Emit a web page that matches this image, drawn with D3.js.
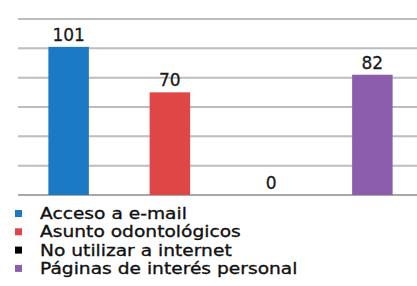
<!DOCTYPE html>
<html>
<head>
<meta charset="utf-8">
<script src="https://cdn.jsdelivr.net/npm/d3@7"></script>
<style>
  body { margin: 0; background: #fff; }
  svg { display: block; }
</style>
</head>
<body>
<script>
// data
var categories = ["Acceso a e-mail", "Asunto odontológicos", "No utilizar a internet", "Páginas de interés personal"];
var values = [101, 70, 0, 82];
var colors = ["#1c79c3", "#e04646", "#000000", "#8a5ead"];
var yTicks = [0, 20, 40, 60, 80, 100, 120];

var width = 417,
    height = 286;

var x = d3.scaleBand()
    .domain(categories)
    .range([18, 423])
    .paddingInner(0.6)
    .paddingOuter(0.3);

var y = d3.scaleLinear()
    .domain([0, 120])
    .range([195, 19]);

var svg = d3.select("body").append("svg")
    .attr("width", width)
    .attr("height", height);

// gridlines
svg.append("g")
    .attr("class", "grid")
  .selectAll("line")
    .data(yTicks)
    .enter().append("line")
    .attr("x1", 18)
    .attr("x2", width)
    .attr("y1", function(d) { return y(d); })
    .attr("y2", function(d) { return y(d); })
    .attr("stroke", function(d) { return d === 0 ? "#a8a8a8" : "#bdbdbd"; })
    .attr("stroke-width", 2);

// bars
svg.selectAll("rect.bar")
    .data(values)
    .enter().append("rect")
    .attr("class", "bar")
    .attr("x", function(d, i) { return x(categories[i]); })
    .attr("width", x.bandwidth())
    .attr("y", function(d) { return y(d); })
    .attr("height", function(d) { return y(0) - y(d); })
    .attr("fill", function(d, i) { return colors[i]; });

// value labels
svg.selectAll("text.val")
    .data(values)
    .enter().append("text")
    .attr("class", "val")
    .attr("x", function(d, i) { return x(categories[i]) + x.bandwidth() / 2; })
    .attr("y", function(d) { return y(d) - 6; })
    .attr("text-anchor", "middle")
    .style("font-family", "DejaVu Sans, sans-serif")
    .style("font-size", "17px")
    .attr("fill", "#1a1a1a")
    .attr("stroke", "#1a1a1a")
    .attr("stroke-width", 0.3)
    .text(function(d) { return d; });

// legend
var legend = svg.append("g")
    .attr("transform", "translate(15,208)");

var row = legend.selectAll("g")
    .data(categories)
    .enter().append("g")
    .attr("transform", function(d, i) { return "translate(0," + (i * 18.3) + ")"; });

row.append("rect")
    .attr("width", 7)
    .attr("height", 7)
    .attr("y", 2)
    .attr("fill", function(d, i) { return colors[i]; });

row.append("text")
    .attr("transform", "translate(25,11) scale(1.13,1)")
    .style("font-family", "DejaVu Sans, sans-serif")
    .style("font-size", "16.5px")
    .attr("fill", "#111")
    .attr("stroke", "#111")
    .attr("stroke-width", 0.35)
    .text(function(d) { return d; });
</script>
</body>
</html>
